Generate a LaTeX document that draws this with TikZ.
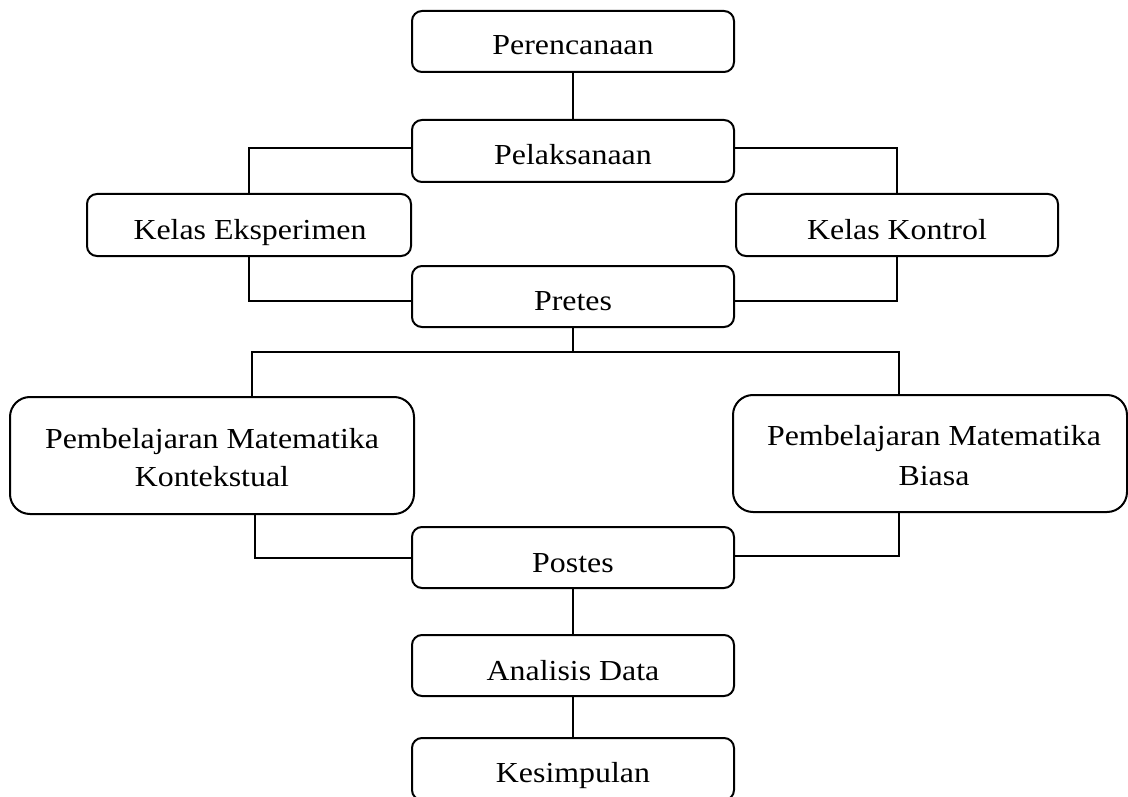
\documentclass[tikz,border=0pt]{standalone}
\usepackage{fontspec}
\setmainfont{Liberation Serif}[FakeStretch=1.1]
\begin{document}
\begin{tikzpicture}[x=1pt,y=-1pt,
  box/.style={draw=black,line width=2pt,rounded corners=10pt,inner sep=0pt},
  bigbox/.style={box,rounded corners=20pt},
  txt/.style={anchor=base,inner sep=0pt,font=\fontsize{29pt}{35pt}\selectfont},
  conn/.style={draw=black,line width=2pt}]
\useasboundingbox (0,0) rectangle (1128,797);
\clip (0,0) rectangle (1128,797);
% boxes
\node[box,minimum width=322pt,minimum height=61pt] (per) at (573,41.5) {};
\node[box,minimum width=322pt,minimum height=62pt] (pel) at (573,151) {};
\node[box,minimum width=324pt,minimum height=62pt] (ke) at (249,225) {};
\node[box,minimum width=322pt,minimum height=62pt] (kk) at (897,225) {};
\node[box,minimum width=322pt,minimum height=61pt] (pre) at (573,296.5) {};
\node[bigbox,minimum width=404pt,minimum height=117pt] (pk) at (212,455.5) {};
\node[bigbox,minimum width=394pt,minimum height=117pt] (pb) at (930,453.5) {};
\node[box,minimum width=322pt,minimum height=61pt] (pos) at (573,557.5) {};
\node[box,minimum width=322pt,minimum height=61pt] (ana) at (573,665.5) {};
\node[box,minimum width=322pt,minimum height=62pt] (kes) at (573,769) {};
% texts
\node[txt] (tper) at (573,55) {Perencanaan};
\node[txt] (tpel) at (573,165) {Pelaksanaan};
\node[txt] (tke) at (250,239) {Kelas Eksperimen};
\node[txt] (tkk) at (897,239) {Kelas Kontrol};
\node[txt] (tpre) at (573,310) {Pretes};
\node[txt] (tpk1) at (212,448) {Pembelajaran Matematika};
\node[txt] (tpk2) at (212,486) {Kontekstual};
\node[txt] (tpb1) at (934,445) {Pembelajaran Matematika};
\node[txt] (tpb2) at (934,485) {Biasa};
\node[txt] (tpos) at (573,572) {Postes};
\node[txt] (tana) at (573,680) {Analisis Data};
\node[txt] (tkes) at (573,782) {Kesimpulan};
% junction coordinates
\coordinate (jl) at (252,352);
\coordinate (jr) at (899,352);
\coordinate (bl) at (255,0);
\coordinate (br) at (899,0);
% connectors
\draw[conn] (per.south) -- (pel.north);
\draw[conn] ([yshift=3pt]pel.west) -| (ke.north);
\draw[conn] ([yshift=3pt]pel.east) -| (kk.north);
\draw[conn] (ke.south) |- ([yshift=-4pt]pre.west);
\draw[conn] (kk.south) |- ([yshift=-4pt]pre.east);
\draw[conn] (pre.south) |- (jl) -- (jl |- pk.north);
\draw[conn] (pre.south) |- (jr) -- (jr |- pb.north);
\draw[conn] (pk.south -| bl) |- (pos.west);
\draw[conn] (pb.south -| br) |- ([yshift=2pt]pos.east);
\draw[conn] (pos.south) -- (ana.north);
\draw[conn] (ana.south) -- (kes.north);
\end{tikzpicture}
\end{document}
